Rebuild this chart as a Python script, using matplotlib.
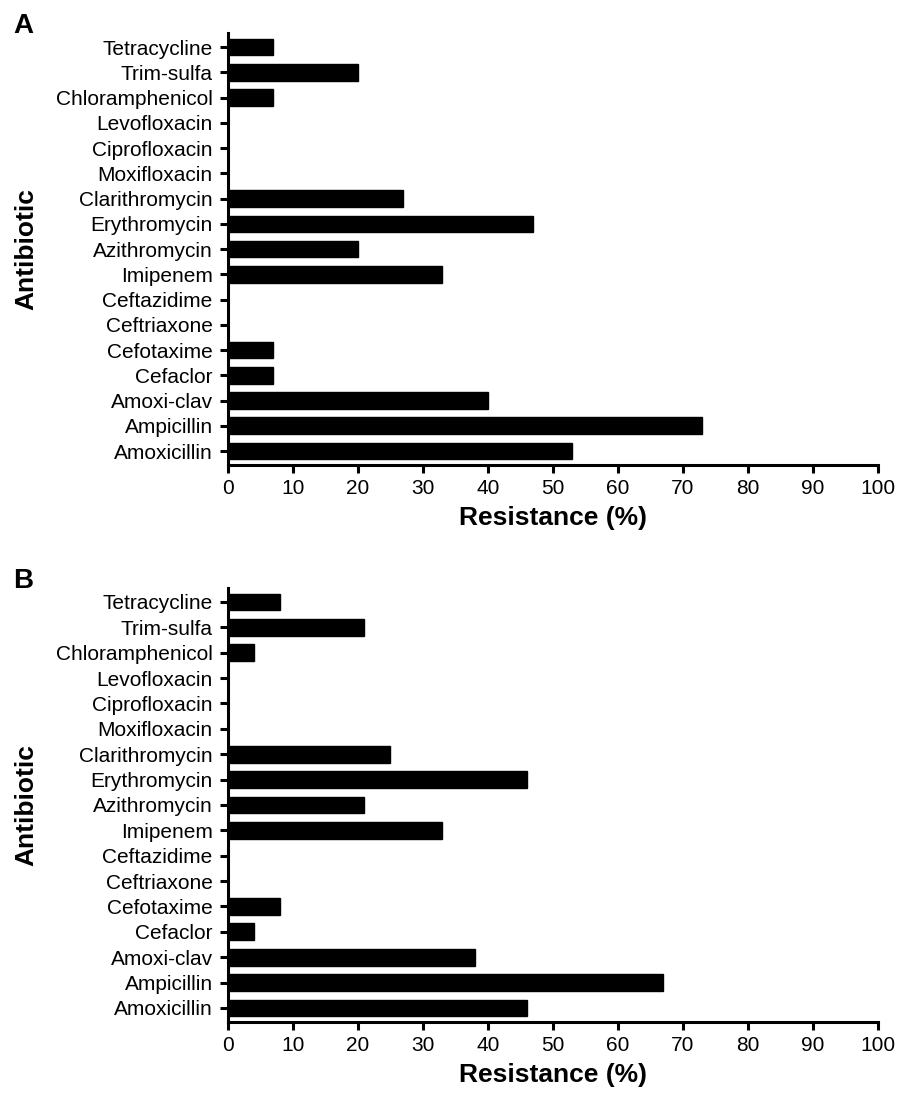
from matplotlib import pyplot as plt
import numpy as np

plt.rcParams['font.family'] = ['Liberation Sans', 'DejaVu Sans']

# Data (top to bottom as shown)
antibiotics = ['Tetracycline', 'Trim-sulfa', 'Chloramphenicol', 'Levofloxacin',
               'Ciprofloxacin', 'Moxifloxacin', 'Clarithromycin', 'Erythromycin',
               'Azithromycin', 'Imipenem', 'Ceftazidime', 'Ceftriaxone',
               'Cefotaxime', 'Cefaclor', 'Amoxi-clav', 'Ampicillin', 'Amoxicillin']
resistance_a = [7, 20, 7, 0, 0, 0, 27, 47, 20, 33, 0, 0, 7, 7, 40, 73, 53]
resistance_b = [8, 21, 4, 0, 0, 0, 25, 46, 21, 33, 0, 0, 8, 4, 38, 67, 46]
x_ticks = list(range(0, 101, 10))
panel_labels = ['A', 'B']


def draw_panel(ax, values, letter):
    y = np.arange(len(antibiotics))[::-1]
    ax.barh(y, values, height=0.66, color='black', edgecolor='black')
    ax.set_yticks(y)
    ax.set_yticklabels(antibiotics, fontsize=15)
    ax.set_xticks(x_ticks)
    ax.set_xticklabels([str(t) for t in x_ticks], fontsize=15)
    ax.set_xlim(0, 100)
    ax.set_ylim(-0.55, len(antibiotics) - 0.45)
    ax.spines['top'].set_visible(False)
    ax.spines['right'].set_visible(False)
    for s in ('left', 'bottom'):
        ax.spines[s].set_linewidth(2.2)
    ax.tick_params(axis='both', width=2.2, length=6)
    ax.tick_params(axis='x', pad=4)
    ax.tick_params(axis='y', pad=5)
    ax.set_xlabel('Resistance (%)', fontsize=19, fontweight='bold', labelpad=6)
    ax.set_ylabel('Antibiotic', fontsize=19, fontweight='bold')
    ax.yaxis.set_label_coords(-0.292, 0.5)
    ax.text(-0.331, 1.0, letter, transform=ax.transAxes, fontsize=20,
            fontweight='bold', va='baseline', ha='left')


fig = plt.figure(figsize=(8.99, 10.93), dpi=100)
ax_a = fig.add_axes([0.2536, 0.5746, 0.723, 0.395])
ax_b = fig.add_axes([0.2536, 0.065, 0.723, 0.397])
draw_panel(ax_a, resistance_a, panel_labels[0])
draw_panel(ax_b, resistance_b, panel_labels[1])

fig.savefig('out.png', dpi=100)
